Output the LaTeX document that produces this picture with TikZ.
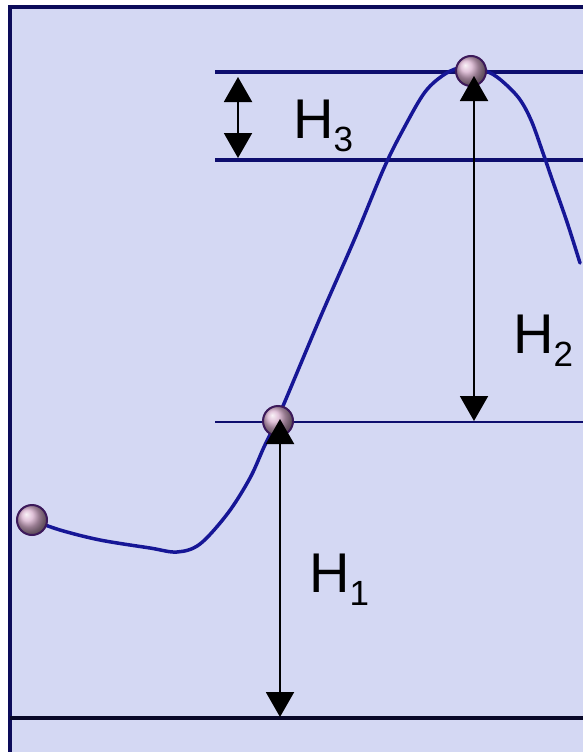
\documentclass[tikz,border=0pt]{standalone}
\usepackage{fontspec}
\setmainfont{Liberation Sans}
\usetikzlibrary{arrows.meta}
\definecolor{bg}{RGB}{212,216,243}
\definecolor{frame}{RGB}{12,12,90}
\definecolor{level}{RGB}{14,14,110}
\definecolor{ground}{RGB}{8,8,40}
\definecolor{curvec}{RGB}{22,22,150}
\definecolor{ballc}{RGB}{215,175,205}
\definecolor{ballrim}{RGB}{60,25,90}
\newcommand\hlab[1]{\fontsize{56}{56}\selectfont H\raisebox{-13pt}{\fontsize{35}{35}\selectfont #1}}
\tikzset{
  thicklevel/.style={draw=level, line width=4pt},
  thinlevel/.style={draw=level, line width=2pt},
  groundline/.style={draw=ground, line width=3.5pt},
  track/.style={draw=curvec, line width=3.5pt, line join=round, line cap=round},
  ballst/.style={circle, minimum size=30pt, inner sep=0pt, shading=ball, ball color=ballc, draw=ballrim, line width=2pt},
  dimarrow/.style={draw=black, line width=2pt, {Triangle[width=28pt,length=25pt]}-{Triangle[width=28pt,length=25pt]}},
  hlabel/.style={anchor=base west, inner sep=0pt, text=black}
}
\begin{document}
\begin{tikzpicture}[x=1pt,y=-1pt]
\useasboundingbox (0,0) rectangle (583,752);
\fill[white] (0,0) rectangle (583,752);
\fill[bg] (10,7) rectangle (583,752);
\draw[frame, line width=3.5pt] (10,752) -- (10,7) -- (583,7);

% level lines
\coordinate (l3a) at (215,72);  \coordinate (l3b) at (583,72);
\coordinate (l2a) at (215,160); \coordinate (l2b) at (583,160);
\coordinate (l1a) at (215,422); \coordinate (l1b) at (583,422);
\coordinate (l0a) at (10,718);  \coordinate (l0b) at (583,718);
\draw[thicklevel] (l3a) -- (l3b);
\draw[thicklevel] (l2a) -- (l2b);
\draw[thinlevel] (l1a) -- (l1b);
\draw[groundline] (l0a) -- (l0b);

% track
\draw[track] plot[smooth, tension=0.55] coordinates {
 (32,520) (60,530) (100,540) (150,548) (177,552) (200,544) (228,513) (250,478)
 (264,447) (280,413) (320,318) (355,238) (384,168) (404,128) (425,92) (445,74)
 (463,67) (480,69) (497,77) (518,97) (531,120) (543,153) (553,182) (567,222) (580,263)};

% balls
\node[ballst] (b1) at (32,520) {};
\node[ballst] (b2) at (278,421) {};
\node[ballst] (b3) at (471,71) {};

% dimension arrows
\coordinate (a3t) at (238,77);  \coordinate (a3b) at (238,158);
\coordinate (a2t) at (474,76);  \coordinate (a2b) at (474,421);
\coordinate (a1t) at (280,419); \coordinate (a1b) at (280,717);
\draw[dimarrow] (a3t) -- (a3b);
\draw[dimarrow] (a2t) -- (a2b);
\draw[dimarrow] (a1t) -- (a1b);

% labels
\node[hlabel] (h3) at (293,138) {\hlab{3}};
\node[hlabel] (h2) at (513,353) {\hlab{2}};
\node[hlabel] (h1) at (309,592) {\hlab{1}};
\end{tikzpicture}
\end{document}
